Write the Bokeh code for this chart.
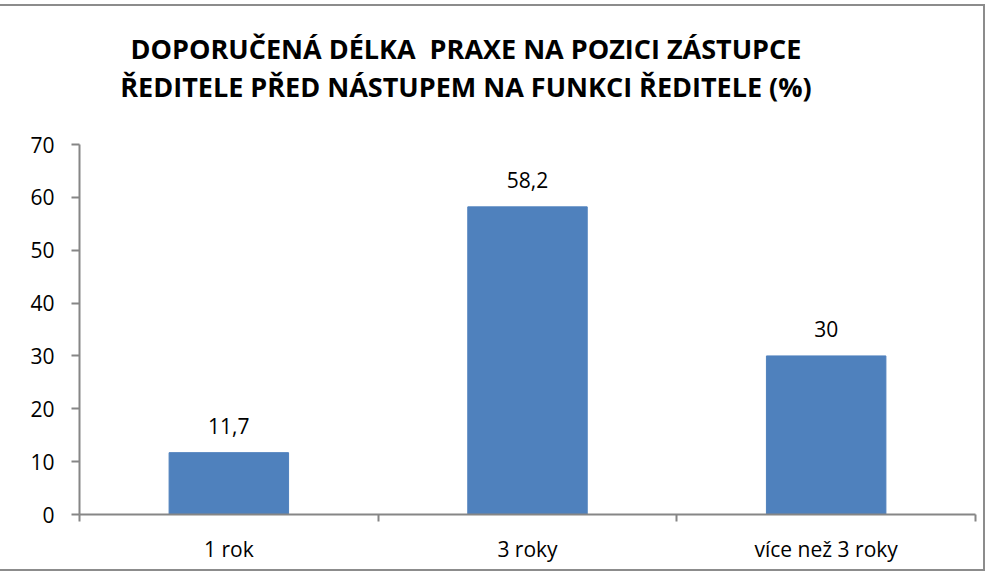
from bokeh.plotting import figure
from bokeh.models import ColumnDataSource, FixedTicker, LabelSet, Range1d, Div
from bokeh.layouts import column
from bokeh.core.properties import value
from bokeh.embed import file_html
from bokeh.resources import INLINE

categories = ["1 rok", "3 roky", "více než 3 roky"]
values = [11.7, 58.2, 30]
value_labels = ["11,7", "58,2", "30"]
title_lines = ["DOPORUČENÁ DÉLKA&nbsp; PRAXE NA POZICI ZÁSTUPCE",
               "ŘEDITELE PŘED NÁSTUPEM NA FUNKCI ŘEDITELE (%)"]
y_ticks = [0, 10, 20, 30, 40, 50, 60, 70]

FONT = "Open Sans"
W = 983

xs = [i + 0.5 for i in range(len(categories))]
src = ColumnDataSource(dict(x=xs, top=values, lab=value_labels))

title = Div(text="<br>".join(title_lines), width=922, height=112,
            styles={"font-family": FONT, "font-weight": "bold", "font-size": "27px",
                    "line-height": "38px", "text-align": "center", "color": "#000000",
                    "padding-top": "19px", "box-sizing": "border-box",
                    "white-space": "nowrap"})

p = figure(width=W, height=441, output_backend="svg", toolbar_location=None,
           x_range=Range1d(0, len(categories)), y_range=Range1d(0, 70),
           min_border_left=79, min_border_right=8, min_border_top=16,
           min_border_bottom=55)
p.outline_line_color = None
p.xgrid.grid_line_color = None
p.ygrid.grid_line_color = None
p.background_fill_color = "white"
p.border_fill_color = "white"

p.vbar(x="x", top="top", width=0.4, source=src, color="#4F81BD")

p.add_layout(LabelSet(x="x", y="top", text="lab", source=src, text_align="center",
                      text_baseline="bottom", y_offset=19, text_font=value(FONT),
                      text_font_size="21px", text_color="#000000"))

# x axis
xa = p.xaxis[0]
xa.ticker = FixedTicker(ticks=xs, minor_ticks=list(range(len(categories) + 1)))
xa.major_label_overrides = {x: c for x, c in zip(xs, categories)}
xa.major_tick_line_color = None
xa.major_tick_out = 0
xa.major_tick_in = 0
xa.minor_tick_out = 7
xa.minor_tick_in = 0
xa.minor_tick_line_color = "#868686"
xa.minor_tick_line_width = 2
xa.axis_line_color = "#868686"
xa.axis_line_width = 2
xa.major_label_standoff = 13
xa.major_label_text_font = FONT
xa.major_label_text_font_size = "21px"
xa.major_label_text_color = "#000000"

# y axis
ya = p.yaxis[0]
ya.ticker = FixedTicker(ticks=y_ticks)
ya.minor_tick_line_color = None
ya.major_tick_out = 8
ya.major_tick_in = 0
ya.major_tick_line_color = "#868686"
ya.major_tick_line_width = 2
ya.axis_line_color = "#868686"
ya.axis_line_width = 2
ya.major_label_standoff = 17
ya.major_label_text_font = FONT
ya.major_label_text_font_size = "21px"
ya.major_label_text_color = "#000000"

layout = column(title, p, spacing=0,
                styles={"border": "2px solid #8c8c8c", "margin-top": "4px",
                        "margin-left": "-2px", "background-color": "white"})

open("out.html", "w").write(file_html(layout, INLINE))
